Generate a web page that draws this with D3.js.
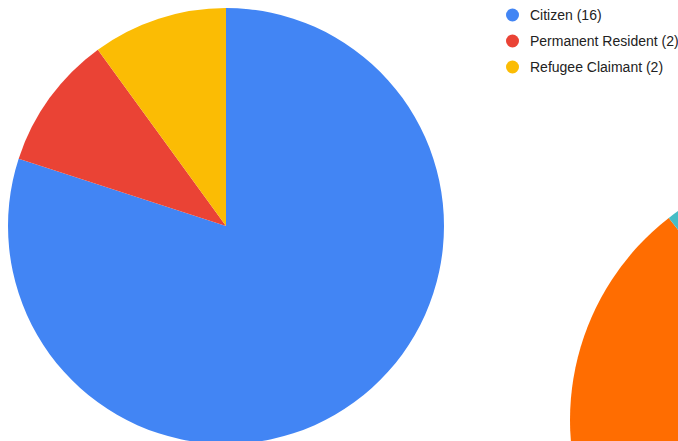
<!DOCTYPE html>
<html>
<head>
<meta charset="utf-8">
<script src="https://cdn.jsdelivr.net/npm/d3@7/dist/d3.min.js"></script>
<style>
  html, body { margin: 0; padding: 0; background: #fff; }
  svg { display: block; }
</style>
</head>
<body>
<svg id="chart" width="678" height="441"></svg>
<script>
// Residency status of respondents
const categories = ["Citizen", "Permanent Resident", "Refugee Claimant"];
const counts = [16, 2, 2];
const colors = ["#4285F4", "#EA4335", "#FBBC04"];

// Neighbouring pie (partly in view at the right edge)
const otherCategories = ["A", "B", "C", "D", "E", "F"];
const otherCounts = [3, 3, 2, 1, 8, 2];
const otherColors = ["#4285F4", "#EA4335", "#FBBC04", "#34A853", "#FF6D01", "#46BDC6"];

const svg = d3.select("#chart");

const pie = d3.pie().sort(null).value(d => d);

// Main pie
const main = svg.append("g").attr("transform", "translate(226,226)");
const arcMain = d3.arc().innerRadius(0).outerRadius(218);
main.selectAll("path")
  .data(pie(counts))
  .join("path")
  .attr("d", arcMain)
  .attr("fill", (d, i) => colors[i]);

// Second pie
const second = svg.append("g").attr("transform", "translate(826,420)");
const arcSecond = d3.arc().innerRadius(0).outerRadius(256);
second.selectAll("path")
  .data(pie(otherCounts))
  .join("path")
  .attr("d", arcSecond)
  .attr("fill", (d, i) => otherColors[i]);

// Legend
const legendY = d3.scalePoint().domain(categories).range([15, 67]);
const legend = svg.append("g");
const items = legend.selectAll("g")
  .data(categories)
  .join("g")
  .attr("transform", d => `translate(0,${legendY(d)})`);
items.append("circle")
  .attr("cx", 512.5)
  .attr("cy", 0)
  .attr("r", 6.5)
  .attr("fill", (d, i) => colors[i]);
items.append("text")
  .attr("x", 530)
  .attr("y", 5.3)
  .attr("font-family", "'Liberation Sans', Arial, sans-serif")
  .attr("font-size", 14)
  .attr("fill", "#222")
  .text((d, i) => `${d} (${counts[i]})`);
</script>
</body>
</html>
